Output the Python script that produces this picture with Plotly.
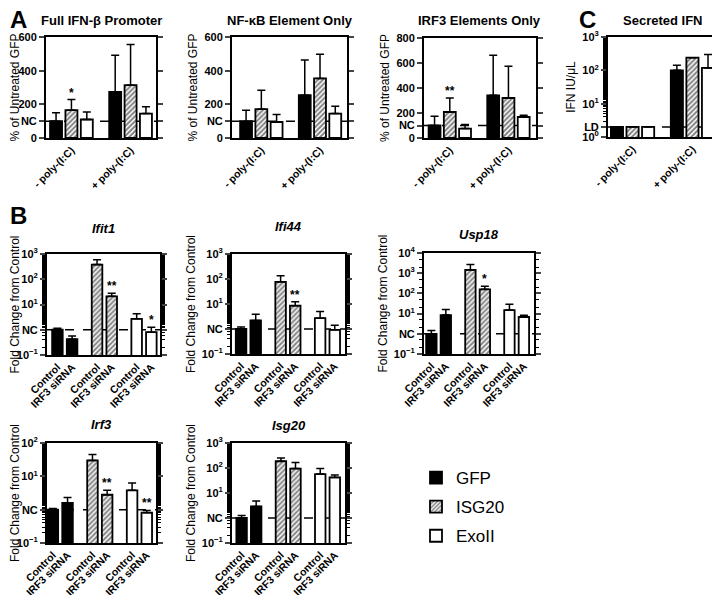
import math

import plotly.graph_objects as go

# the page puts the plot 8px in from the top-left corner, so the figure is
# drawn 8px smaller and every layout position is given in window pixels
PAGE_OFFSET = 8
W, H = 720 - PAGE_OFFSET, 595 - PAGE_OFFSET
FONT = "Arial, Liberation Sans, sans-serif"

constructs = ["GFP", "ISG20", "ExoII"]
poly_groups = ["- poly-(I:C)", "+ poly-(I:C)"]
sirna_groups = ["Control", "IRF3 siRNA"]

# panel A / C: rows = GFP, ISG20, ExoII ; columns = - / + poly-(I:C)
full_ifnb_mean = [[100, 274], [165, 314], [110, 145]]
full_ifnb_err = [[50, 218], [63, 242], [45, 40]]
full_ifnb_stars = [["", ""], ["*", ""], ["", ""]]

nfkb_mean = [[100, 254], [171, 354], [95, 145]]
nfkb_err = [[65, 209], [113, 144], [44, 44]]
nfkb_stars = [["", ""], ["", ""], ["", ""]]

irf3_el_mean = [[100, 341], [208, 320], [75, 168]]
irf3_el_err = [[74, 320], [112, 253], [32, 13]]
irf3_el_stars = [["", ""], ["**", ""], ["", ""]]

ifn_mean = [[2, 100], [2, 240], [2, 118]]
ifn_err = [[0, 43], [0, 0], [0, 179]]
ifn_stars = [["", ""], ["", ""], ["", ""]]

# panel B: rows = GFP, ISG20, ExoII ; columns = Control / IRF3 siRNA
ifit1_mean = [[1.0, 0.42], [380, 21], [2.7, 0.8]]
ifit1_err = [[0.15, 0.15], [210, 7], [1.6, 0.46]]
ifit1_stars = [["", ""], ["", "**"], ["", "*"]]

ifi44_mean = [[1.0, 2.2], [77, 8.6], [2.7, 0.93]]
ifi44_err = [[0.2, 1.7], [57, 3.8], [2.3, 0.47]]
ifi44_stars = [["", ""], ["", "**"], ["", ""]]

usp18_mean = [[1.0, 8.5], [1450, 160], [15, 6.8]]
usp18_err = [[0.45, 7.5], [1250, 65], [14, 1.4]]
usp18_stars = [["", ""], ["", "*"], ["", ""]]

irf3_mean = [[1.0, 1.6], [30, 2.8], [3.8, 0.81]]
irf3_err = [[0.08, 0.7], [15, 1.0], [2.5, 0.14]]
irf3_stars = [["", ""], ["", "**"], ["", "**"]]

isg20_mean = [[1.0, 2.9], [186, 95], [57, 42]]
isg20_err = [[0.27, 1.9], [67, 71], [38, 10]]
isg20_stars = [["", ""], ["", ""], ["", ""]]


def fx(px):
    return (px - PAGE_OFFSET) / W


def fy(py):
    return 1 - (py - PAGE_OFFSET) / H


def pow_label(e):
    return "10<sup>%s</sup>" % ("\u22121" if e == -1 else e)


def log_ticks(lo, hi, ref_label):
    vals, text = [], []
    for e in range(lo, hi + 1):
        vals.append(10 ** e)
        text.append(ref_label if (e == 0 and ref_label == "NC") else pow_label(e))
    return vals, text


FILL = {"GFP": "black", "ISG20": "white", "ExoII": "white"}
PATTERN = {
    "GFP": dict(shape=""),
    "ISG20": dict(shape="/", fgcolor="black", bgcolor="white", size=3.5, solidity=0.55),
    "ExoII": dict(shape=""),
}
BARGAP = 0.22
B_STEP = 2.7   # spacing between construct pairs in panel B
B_WIDTH = 0.72

nc_vals, nc_text = log_ticks(-1, 3, "NC")
usp_vals, usp_text = log_ticks(-1, 4, "NC")
irf_vals, irf_text = log_ticks(-1, 2, "NC")
ifn_vals, ifn_text = log_ticks(0, 3, "")

panels = [
    dict(title="<b>Full IFN-\u03b2 Promoter</b>", box=(46, 156, 37, 138), mode="poly",
         mean=full_ifnb_mean, err=full_ifnb_err, stars=full_ifnb_stars,
         ylog=False, yrange=[0, 600], yvals=[0, 100, 200, 400, 600],
         ytext=["0", "NC", "200", "400", "600"], ref=100,
         ytitle="% of Untreated GFP", xrange=[-0.43, 1.43], tdy=17),
    dict(title="<b>NF-\u03baB Element Only</b>", box=(232, 347, 37, 138), mode="poly",
         mean=nfkb_mean, err=nfkb_err, stars=nfkb_stars,
         ylog=False, yrange=[0, 600], yvals=[0, 100, 200, 400, 600],
         ytext=["0", "NC", "200", "400", "600"], ref=100,
         ytitle="% of Untreated GFP", xrange=[-0.5, 1.46], tdy=17),
    dict(title="<b>IRF3 Elements Only</b>", box=(424, 536, 38, 138), mode="poly",
         mean=irf3_el_mean, err=irf3_el_err, stars=irf3_el_stars,
         ylog=False, yrange=[0, 800], yvals=[0, 100, 200, 400, 600, 800],
         ytext=["0", "NC", "200", "400", "600", "800"], ref=100,
         ytitle="% of Untreated GFP", xrange=[-0.44, 1.47], tdy=18),
    dict(title="<b>Secreted IFN</b>", box=(608, 717, 37, 137), mode="poly",
         mean=ifn_mean, err=ifn_err, stars=ifn_stars,
         ylog=True, yrange=[0, 3], yvals=ifn_vals + [2],
         ytext=ifn_text + ["LD"], ref=2,
         ytitle="IFN IU/\u03bcL", xrange=[-0.41, 1.41], tdy=17),
    dict(title="<b><i>Ifit1</i></b>", box=(47, 160, 254, 355), mode="sirna",
         mean=ifit1_mean, err=ifit1_err, stars=ifit1_stars,
         ylog=True, yrange=[-1, 3], yvals=nc_vals, ytext=nc_text, ref=1,
         ytitle="Fold Change from Control", xrange=[-0.71, 6.99], tdy=26),
    dict(title="<b><i>Ifi44</i></b>", box=(232, 345, 254, 354), mode="sirna",
         mean=ifi44_mean, err=ifi44_err, stars=ifi44_stars,
         ylog=True, yrange=[-1, 3], yvals=nc_vals, ytext=nc_text, ref=1,
         ytitle="Fold Change from Control", xrange=[-0.62, 7.1], tdy=27),
    dict(title="<b><i>Usp18</i></b>", box=(424, 534, 253, 354), mode="sirna",
         mean=usp18_mean, err=usp18_err, stars=usp18_stars,
         ylog=True, yrange=[-1, 4], yvals=usp_vals, ytext=usp_text, ref=1,
         ytitle="Fold Change from Control", xrange=[-0.51, 7.1], tdy=18),
    dict(title="<b><i>Irf3</i></b>", box=(47, 156, 443, 543), mode="sirna",
         mean=irf3_mean, err=irf3_err, stars=irf3_stars,
         ylog=True, yrange=[-1, 2], yvals=irf_vals, ytext=irf_text, ref=1,
         ytitle="Fold Change from Control", xrange=[-0.4, 7.03], tdy=19),
    dict(title="<b><i>Isg20</i></b>", box=(232, 345, 443, 543), mode="sirna",
         mean=isg20_mean, err=isg20_err, stars=isg20_stars,
         ylog=True, yrange=[-1, 3], yvals=nc_vals, ytext=nc_text, ref=1,
         ytitle="Fold Change from Control", xrange=[-0.66, 7.1], tdy=18),
]

fig = go.Figure()
annotations = []
tick_font = dict(family=FONT, size=11, color="black", weight="bold")
xtick_font = dict(family=FONT, size=10.5, color="black", weight="bold")

for n, p in enumerate(panels, start=1):
    xa = "x" if n == 1 else "x%d" % n
    ya = "y" if n == 1 else "y%d" % n
    for i, c in enumerate(constructs):
        if p["mode"] == "poly":
            xs = poly_groups
            extra = {}
        else:
            xs = [i * B_STEP, i * B_STEP + 1]
            extra = dict(width=B_WIDTH, offset=-B_WIDTH / 2)
        fig.add_trace(go.Bar(
            x=xs, y=p["mean"][i], name=c, legendgroup=c, showlegend=(n == 1),
            error_y=dict(type="data", symmetric=False, array=p["err"][i],
                         arrayminus=[0, 0], color="black", thickness=1.5, width=4),
            marker=dict(color=FILL[c], line=dict(color="black", width=1.8),
                        pattern=PATTERN[c]),
            xaxis=xa, yaxis=ya, **extra))

        # significance marks above the error bars
        for j, s in enumerate(p["stars"][i]):
            if not s:
                continue
            top = p["mean"][i][j] + p["err"][i][j]
            if p["mode"] == "poly":
                sx = j + (i - 1) * (1 - BARGAP) / 3
            else:
                sx = xs[j]
            annotations.append(dict(
                x=sx, y=math.log10(top) if p["ylog"] else top, xref=xa, yref=ya,
                text=s, showarrow=False, xanchor="center", yanchor="bottom", yshift=-2,
                font=dict(family=FONT, size=12, color="black", weight="bold")))

    x0, x1, y0, y1 = p["box"]
    frame = dict(showline=True, linecolor="black", linewidth=2, mirror="allticks",
                 showgrid=False, zeroline=False, automargin=False)
    if p["mode"] == "poly":
        xaxis = dict(type="category", tickangle=-45, ticks="")
    else:
        pos = [i * B_STEP + k for i in range(3) for k in range(2)]
        xaxis = dict(type="linear", tickvals=pos, ticktext=sirna_groups * 3,
                     tickangle=-45, ticks="")
    xaxis.update(domain=[fx(x0), fx(x1)], anchor=ya, range=p["xrange"],
                 tickfont=xtick_font, **frame)
    yaxis = dict(domain=[fy(y1), fy(y0)], anchor=xa, range=p["yrange"],
                 tickvals=p["yvals"], ticktext=p["ytext"], ticks="outside",
                 ticklen=5, tickwidth=1.5, tickfont=tick_font,
                 title=dict(text=p["ytitle"], standoff=4,
                            font=dict(family=FONT, size=12, color="black")),
                 **frame)
    if p["ylog"]:
        yaxis.update(type="log",
                     minor=dict(ticks="outside", ticklen=3, tickwidth=1,
                                tickcolor="black", showgrid=False))
    fig.layout["xaxis" if n == 1 else "xaxis%d" % n] = xaxis
    fig.layout["yaxis" if n == 1 else "yaxis%d" % n] = yaxis

    fig.add_shape(type="line", xref=xa + " domain", x0=0, x1=1, yref=ya,
                  y0=p["ref"], y1=p["ref"], layer="below",
                  line=dict(color="black", width=1.5, dash="dash"))

    annotations.append(dict(
        x=fx((x0 + x1) / 2), y=fy(y0 - p["tdy"]), xref="paper", yref="paper",
        text=p["title"], showarrow=False, xanchor="center", yanchor="middle",
        font=dict(family=FONT, size=13, color="black")))

for letter, lx, ly in [("A", 8, 8), ("B", 8, 204), ("C", 577, 8)]:
    annotations.append(dict(
        x=fx(lx), y=fy(ly), xref="paper", yref="paper", text="<b>%s</b>" % letter,
        showarrow=False, xanchor="left", yanchor="top", yshift=4,
        font=dict(family=FONT, size=24, color="black")))

fig.update_layout(
    width=W, height=H, margin=dict(l=0, r=0, t=0, b=0),
    paper_bgcolor="white", plot_bgcolor="white",
    barmode="group", bargap=BARGAP, bargroupgap=0.22,
    annotations=annotations,
    legend=dict(x=fx(416), xanchor="left", y=fy(460), yanchor="top",
                font=dict(family=FONT, size=17, color="black"),
                tracegroupgap=4, bgcolor="rgba(0,0,0,0)"),
    font=dict(family=FONT, color="black"),
)

fig.write_html("out.html")
